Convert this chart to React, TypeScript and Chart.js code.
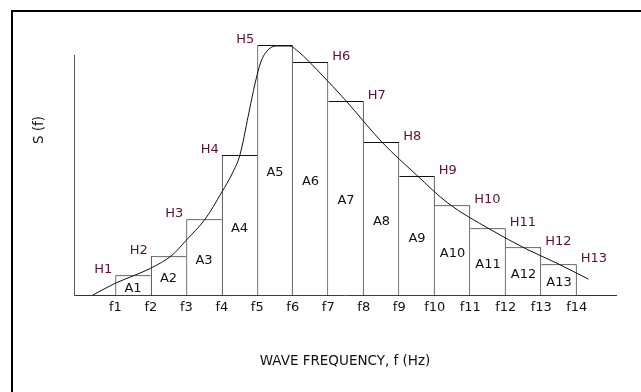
import React, { useEffect, useRef } from "react";
import { Chart, registerables } from "chart.js";

Chart.register(...registerables);

// ---- data ----
const freqLabels = ["f1", "f2", "f3", "f4", "f5", "f6", "f7", "f8", "f9", "f10", "f11", "f12", "f13", "f14"];
const freqPositions = [1, 2, 3, 4, 5, 6, 7, 8, 9, 10, 11, 12, 13, 14];
const heightLabels = ["H1", "H2", "H3", "H4", "H5", "H6", "H7", "H8", "H9", "H10", "H11", "H12", "H13"];
const areaLabels = ["A1", "A2", "A3", "A4", "A5", "A6", "A7", "A8", "A9", "A10", "A11", "A12", "A13"];
const heights = [20, 39, 76, 140, 250, 233, 194, 153, 119, 90, 67, 48, 31];
const curveX = [0.36, 1.0, 1.55, 2.0, 2.6, 3.0, 3.53, 4.0, 4.3, 4.51, 4.75, 4.94, 5.1, 5.3, 5.55, 5.92, 6.1, 6.3, 6.77, 7.48, 8.51, 9.49, 10.37, 11.55, 12.59, 13.44, 14.33];
const curveY = [0, 12, 20, 27, 40, 55, 76, 103, 122, 140, 180, 212, 233, 245, 249, 249, 245, 239, 222, 195, 153, 120, 92, 66, 46, 32, 16];
const xTitle = "WAVE FREQUENCY, f (Hz)";
const yTitle = "S (f)";
const yMax = 240;

const FONT = '"DejaVu Sans", Verdana, sans-serif';

const labelPlugin = {
  id: "barLabels",
  afterDatasetsDraw(chart: any) {
    const meta = chart.getDatasetMeta(0);
    const ctx = chart.ctx;
    const peak = heights.indexOf(Math.max(...heights));
    const yBase = chart.scales.y.getPixelForValue(0);
    ctx.save();
    ctx.font = `13px ${FONT}`;
    meta.data.forEach((bar: any, i: number) => {
      const { x, y, width } = bar.getProps(["x", "y", "width"], true);
      ctx.fillStyle = "#5a1038";
      ctx.textBaseline = "alphabetic";
      if (i <= peak) {
        ctx.textAlign = "right";
        ctx.fillText(heightLabels[i], x - width / 2 - 3, y - 2);
      } else {
        ctx.textAlign = "left";
        ctx.fillText(heightLabels[i], x + width / 2 + 4, y - 2);
      }
      ctx.fillStyle = "#111";
      ctx.textAlign = "center";
      ctx.textBaseline = "middle";
      ctx.fillText(areaLabels[i], x, (y + yBase) / 2 + 3);
    });
    // y title
    const area = chart.chartArea;
    ctx.translate(area.left - 35, area.top + 75);
    ctx.rotate(-Math.PI / 2);
    ctx.font = `13.5px ${FONT}`;
    ctx.fillStyle = "#111";
    ctx.textAlign = "center";
    ctx.textBaseline = "middle";
    ctx.fillText(yTitle, 0, 0);
    ctx.restore();
  },
};

export default function App() {
  const ref = useRef<HTMLCanvasElement | null>(null);

  useEffect(() => {
    if (!ref.current) return;
    const barData = heights.map((h, i) => ({
      x: (freqPositions[i] + freqPositions[i + 1]) / 2,
      y: h,
    }));
    const curveData = curveX.map((x, i) => ({ x, y: curveY[i] }));

    const chart = new Chart(ref.current, {
      type: "bar",
      data: {
        datasets: [
          {
            type: "bar",
            data: barData as any,
            backgroundColor: "#ffffff",
            borderColor: "#111111",
            borderWidth: (c: any) => {
              const i = c.dataIndex;
              if (i === undefined) return 1;
              const h = heights[i];
              const prev = i > 0 ? heights[i - 1] : -Infinity;
              const next = i < heights.length - 1 ? heights[i + 1] : -Infinity;
              return { top: 1, bottom: 0, left: h >= prev ? 1 : 0, right: h > next ? 1 : 0 };
            },
            borderSkipped: false,
            barPercentage: 1,
            categoryPercentage: 1,
            inflateAmount: 0,
            clip: false as any,
            order: 2,
          } as any,
          {
            type: "line",
            data: curveData as any,
            borderColor: "#111111",
            borderWidth: 1,
            pointRadius: 0,
            fill: false,
            cubicInterpolationMode: "monotone",
            clip: false as any,
            order: 1,
          } as any,
        ],
      },
      options: {
        responsive: false,
        animation: false,
        events: [],
        layout: { padding: { left: 74, right: 25, top: 55, bottom: 22 } },
        plugins: { legend: { display: false }, tooltip: { enabled: false } },
        scales: {
          x: {
            type: "linear",
            min: -0.164,
            max: 15.106,
            offset: false,
            grid: { display: false, drawTicks: false },
            border: { display: true, color: "#333333", width: 1 },
            afterBuildTicks: (scale: any) => {
              scale.ticks = freqPositions.map((v) => ({ value: v }));
            },
            ticks: {
              autoSkip: false,
              maxRotation: 0,
              padding: 5,
              color: "#111",
              font: { family: FONT, size: 13 },
              callback: (v: any) => freqLabels[freqPositions.indexOf(Number(v))] ?? "",
            },
            title: {
              display: true,
              text: xTitle,
              color: "#111",
              font: { family: FONT, size: 13.5 },
              padding: { top: 33, bottom: 0 },
            },
          },
          y: {
            type: "linear",
            min: 0,
            max: yMax,
            grid: { display: false, drawTicks: false },
            border: { display: true, color: "#5a5a5a", width: 1 },
            ticks: { display: false },
          },
        },
      },
      plugins: [labelPlugin],
    } as any);
    return () => chart.destroy();
  }, []);

  return (
    <div style={{ position: "fixed", left: 0, top: 0, width: 641, height: 392, overflow: "hidden", background: "#fff" }}>
      <div
        style={{
          position: "absolute",
          left: 11,
          top: 10,
          width: 700,
          height: 450,
          border: "2px solid #000",
          boxSizing: "border-box",
        }}
      />
      <canvas ref={ref} width={641} height={392} style={{ position: "absolute", left: 0, top: 0, width: 641, height: 392 }} />
    </div>
  );
}
